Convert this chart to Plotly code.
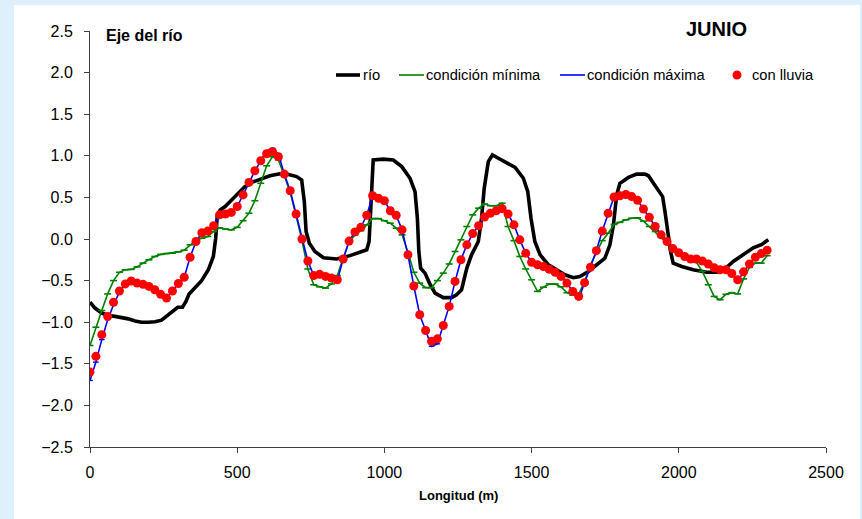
import plotly.graph_objects as go

# ---- data -------------------------------------------------------------
# stations along the reach (m), every 20 m
longitud = list(range(0, 2301, 20))

# con lluvia (red dots)
con_lluvia = [
    -1.60, -1.41, -1.15, -0.93, -0.76, -0.625, -0.54, -0.505, -0.53, -0.545,
    -0.57, -0.61, -0.665, -0.71, -0.625, -0.535, -0.46, -0.22, -0.03, 0.075,
    0.095, 0.16, 0.29, 0.30, 0.32, 0.39, 0.53, 0.68, 0.82, 0.94,
    1.025, 1.05, 0.99, 0.78, 0.58, 0.30, 0.0, -0.265, -0.44, -0.425,
    -0.45, -0.47, -0.49, -0.24, -0.025, 0.085, 0.14, 0.285, 0.52, 0.49,
    0.46, 0.34, 0.285, 0.11, -0.19, -0.565, -0.91, -1.10, -1.23, -1.20,
    -1.04, -0.81, -0.51, -0.25, -0.07, 0.065, 0.16, 0.265, 0.31, 0.34,
    0.365, 0.30, 0.17, -0.01, -0.17, -0.28, -0.31, -0.33, -0.365, -0.40,
    -0.45, -0.53, -0.63, -0.69, -0.525, -0.34, -0.14, 0.095, 0.31, 0.505,
    0.52, 0.535, 0.51, 0.465, 0.36, 0.26, 0.15, 0.05, -0.03, -0.115,
    -0.165, -0.21, -0.24, -0.24, -0.265, -0.30, -0.345, -0.37, -0.37, -0.415,
    -0.49, -0.395, -0.30, -0.22, -0.175, -0.135,
]

# condición máxima (blue)
cond_maxima = [
    -1.70, -1.48, -1.21, -0.97, -0.79, -0.64, -0.54, -0.505, -0.53, -0.545,
    -0.57, -0.61, -0.665, -0.71, -0.625, -0.535, -0.46, -0.22, -0.03, 0.075,
    0.095, 0.16, 0.29, 0.30, 0.32, 0.39, 0.53, 0.68, 0.82, 0.94,
    1.06, 1.09, 1.02, 0.78, 0.58, 0.30, 0.0, -0.265, -0.44, -0.425,
    -0.45, -0.47, -0.50, -0.24, -0.025, 0.085, 0.14, 0.285, 0.52, 0.49,
    0.46, 0.34, 0.285, 0.11, -0.19, -0.565, -0.91, -1.10, -1.29, -1.26,
    -1.04, -0.81, -0.51, -0.25, -0.07, 0.065, 0.16, 0.265, 0.31, 0.34,
    0.365, 0.30, 0.17, -0.01, -0.17, -0.28, -0.31, -0.33, -0.365, -0.40,
    -0.45, -0.53, -0.63, -0.72, -0.525, -0.34, -0.14, 0.095, 0.31, 0.505,
    0.52, 0.535, 0.51, 0.465, 0.36, 0.26, 0.15, 0.05, -0.03, -0.115,
    -0.165, -0.21, -0.24, -0.24, -0.265, -0.30, -0.345, -0.37, -0.37, -0.415,
    -0.50, -0.395, -0.30, -0.22, -0.175, -0.135,
]

# condición mínima (green)
cond_minima = [
    -1.28, -1.06, -0.86, -0.66, -0.50, -0.40, -0.37, -0.365, -0.335, -0.29,
    -0.25, -0.21, -0.185, -0.175, -0.17, -0.155, -0.135, -0.07, -0.015, 0.01,
    0.03, 0.09, 0.135, 0.12, 0.11, 0.14, 0.22, 0.31, 0.46, 0.67,
    0.88, 0.99, 0.95, 0.76, 0.56, 0.28, -0.02, -0.36, -0.55, -0.575,
    -0.59, -0.54, -0.44, -0.23, -0.04, 0.05, 0.10, 0.17, 0.245, 0.245,
    0.22, 0.19, 0.13, 0.05, -0.16, -0.40, -0.53, -0.585, -0.585, -0.50,
    -0.41, -0.30, -0.15, -0.01, 0.15, 0.29, 0.37, 0.42, 0.40, 0.40,
    0.43, 0.15, -0.02, -0.21, -0.36, -0.49, -0.63, -0.58, -0.54, -0.54,
    -0.575, -0.645, -0.675, -0.665, -0.51, -0.31, -0.16, -0.02, 0.07, 0.175,
    0.20, 0.23, 0.25, 0.255, 0.215, 0.15, 0.09, 0.02, -0.05, -0.15,
    -0.165, -0.20, -0.24, -0.28, -0.39, -0.55, -0.69, -0.73, -0.665, -0.645,
    -0.66, -0.48, -0.34, -0.29, -0.29, -0.20,
]

# río (black) - digitised centreline
rio_x = [
    0, 17, 40, 62, 85, 108, 130, 153, 175, 198, 221, 243, 260, 280, 298, 314,
    326, 336, 357, 379, 402, 419, 427, 432, 442, 459, 481, 504, 526, 549, 583,
    611, 645, 668, 702, 719, 728, 734, 745, 764, 793, 838, 883, 917, 940, 948,
    954, 962, 996, 1030, 1059, 1087, 1104, 1112, 1117, 1123, 1138, 1153, 1172,
    1200, 1228, 1245, 1262, 1280, 1296, 1319, 1330, 1339, 1353, 1367, 1387,
    1415, 1444, 1472, 1487, 1498, 1511, 1529, 1557, 1585, 1613, 1642, 1664,
    1693, 1721, 1749, 1766, 1778, 1789, 1800, 1829, 1857, 1885, 1897, 1914,
    1930, 1945, 1953, 1964, 1972, 1981, 2010, 2049, 2095, 2134, 2160, 2185,
    2219, 2253, 2282, 2304,
]
rio_y = [
    -0.76, -0.83, -0.89, -0.92, -0.93, -0.94, -0.96, -0.985, -1.0, -1.0, -0.995,
    -0.975, -0.925, -0.87, -0.82, -0.82, -0.75, -0.665, -0.585, -0.50, -0.37,
    -0.21, 0.01, 0.27, 0.35, 0.39, 0.47, 0.56, 0.63, 0.68, 0.72, 0.76, 0.785,
    0.78, 0.75, 0.71, 0.45, 0.09, -0.05, -0.15, -0.225, -0.24, -0.20, -0.16,
    -0.13, -0.03, 0.45, 0.95, 0.96, 0.95, 0.87, 0.73, 0.57, 0.25, -0.15, -0.35,
    -0.41, -0.53, -0.65, -0.705, -0.705, -0.67, -0.61, -0.35, -0.19, -0.03,
    0.25, 0.61, 0.93, 1.01, 0.97, 0.91, 0.86, 0.73, 0.57, 0.25, -0.03, -0.19,
    -0.31, -0.37, -0.43, -0.465, -0.45, -0.39, -0.31, -0.23, -0.07, 0.17, 0.53,
    0.67, 0.74, 0.78, 0.78, 0.76, 0.67, 0.58, 0.51, 0.33, 0.05, -0.15, -0.29,
    -0.33, -0.37, -0.40, -0.40, -0.35, -0.27, -0.185, -0.105, -0.065, -0.01,
]

y_ticks = [-2.5, -2.0, -1.5, -1.0, -0.5, 0.0, 0.5, 1.0, 1.5, 2.0, 2.5]
x_ticks = [0, 500, 1000, 1500, 2000, 2500]

# ---- figure -----------------------------------------------------------
W, H = 862, 519
ML, MR, MT, MB = 90, 36, 31, 72
PW, PH = W - ML - MR, H - MT - MB
FONT = "Liberation Sans, Arial, sans-serif"

BLACK, GREEN, BLUE, RED = "#000000", "#008000", "#0000FF", "#FF0000"


def px(x):
    return (x - ML) / PW


def py(y):
    return (H - MB - y) / PH


fig = go.Figure()

fig.add_trace(go.Scatter(x=rio_x, y=rio_y, mode="lines", name="río",
                         line=dict(color=BLACK, width=3.6)))
fig.add_trace(go.Scatter(x=longitud, y=cond_minima, mode="lines+markers",
                         name="condición mínima",
                         line=dict(color=GREEN, width=1.6),
                         marker=dict(symbol="line-ew", size=5,
                                     line=dict(color=GREEN, width=1.6))))
fig.add_trace(go.Scatter(x=longitud, y=cond_maxima, mode="lines+markers",
                         name="condición máxima",
                         line=dict(color=BLUE, width=1.6),
                         marker=dict(symbol="line-ew", size=4,
                                     line=dict(color=BLUE, width=1.4))))
fig.add_trace(go.Scatter(x=longitud, y=con_lluvia, mode="markers",
                         name="con lluvia",
                         marker=dict(color=RED, size=9)))

# hand-placed legend row
LEG_Y = 75
shapes = [
    # white chart panel on the light-blue page
    dict(type="rect", xref="paper", yref="paper", layer="below",
         x0=px(14), x1=px(860), y0=py(5), y1=py(H + 5),
         fillcolor="white", line=dict(width=0)),
    dict(type="line", xref="paper", yref="paper", x0=px(336), x1=px(360),
         y0=py(LEG_Y), y1=py(LEG_Y), line=dict(color=BLACK, width=3.6)),
    dict(type="line", xref="paper", yref="paper", x0=px(399), x1=px(424),
         y0=py(LEG_Y), y1=py(LEG_Y), line=dict(color=GREEN, width=1.6)),
    dict(type="line", xref="paper", yref="paper", x0=px(560), x1=px(585),
         y0=py(LEG_Y), y1=py(LEG_Y), line=dict(color=BLUE, width=1.6)),
    dict(type="circle", xref="paper", yref="paper",
         x0=px(732.5), x1=px(741.5), y0=py(LEG_Y + 4.5), y1=py(LEG_Y - 4.5),
         fillcolor=RED, line=dict(width=0)),
]

legend_font = dict(family=FONT, size=14.7, color="#000000")
annotations = [
    dict(text="río", x=px(362), y=py(LEG_Y)),
    dict(text="condición mínima", x=px(425), y=py(LEG_Y)),
    dict(text="condición máxima", x=px(586), y=py(LEG_Y)),
    dict(text="con lluvia", x=px(751), y=py(LEG_Y)),
]
for a in annotations:
    a.update(xref="paper", yref="paper", xanchor="left", yanchor="middle",
             showarrow=False, font=legend_font, borderpad=0)

annotations += [
    dict(text="<b>Eje del río</b>", xref="paper", yref="paper",
         x=px(105), y=py(36), xanchor="left", yanchor="middle",
         showarrow=False, borderpad=0,
         font=dict(family=FONT, size=16, color="#000000")),
    dict(text="<b>JUNIO</b>", xref="paper", yref="paper",
         x=px(716), y=py(29), xanchor="center", yanchor="middle",
         showarrow=False, borderpad=0,
         font=dict(family=FONT, size=20, color="#000000")),
    dict(text="<b>Longitud (m)</b>", xref="paper", yref="paper",
         x=px(458), y=py(496), xanchor="center", yanchor="middle",
         showarrow=False, borderpad=0,
         font=dict(family=FONT, size=13, color="#000000")),
]

fig.update_layout(
    width=W, height=H,
    margin=dict(l=ML, r=MR, t=MT, b=MB, pad=0),
    paper_bgcolor="#DDF0FC",
    plot_bgcolor="white",
    showlegend=False,
    shapes=shapes,
    annotations=annotations,
    font=dict(family=FONT, size=16, color="#000000"),
)

fig.update_xaxes(
    range=[0, 2500], tickvals=x_ticks, ticktext=[str(v) for v in x_ticks],
    showgrid=False, zeroline=False,
    showline=True, linecolor="#404040", linewidth=1,
    ticks="outside", ticklen=5, tickcolor="#404040", tickwidth=1,
    tickfont=dict(family=FONT, size=16, color="#000000"),
    ticklabelstandoff=6,
)
fig.update_yaxes(
    range=[-2.5, 2.5], tickvals=y_ticks, tickformat=".1f",
    showgrid=False, zeroline=False,
    showline=True, linecolor="#404040", linewidth=1,
    ticks="outside", ticklen=5, tickcolor="#404040", tickwidth=1,
    tickfont=dict(family=FONT, size=16, color="#000000"),
    ticklabelstandoff=8,
)

fig.write_html("out.html")
